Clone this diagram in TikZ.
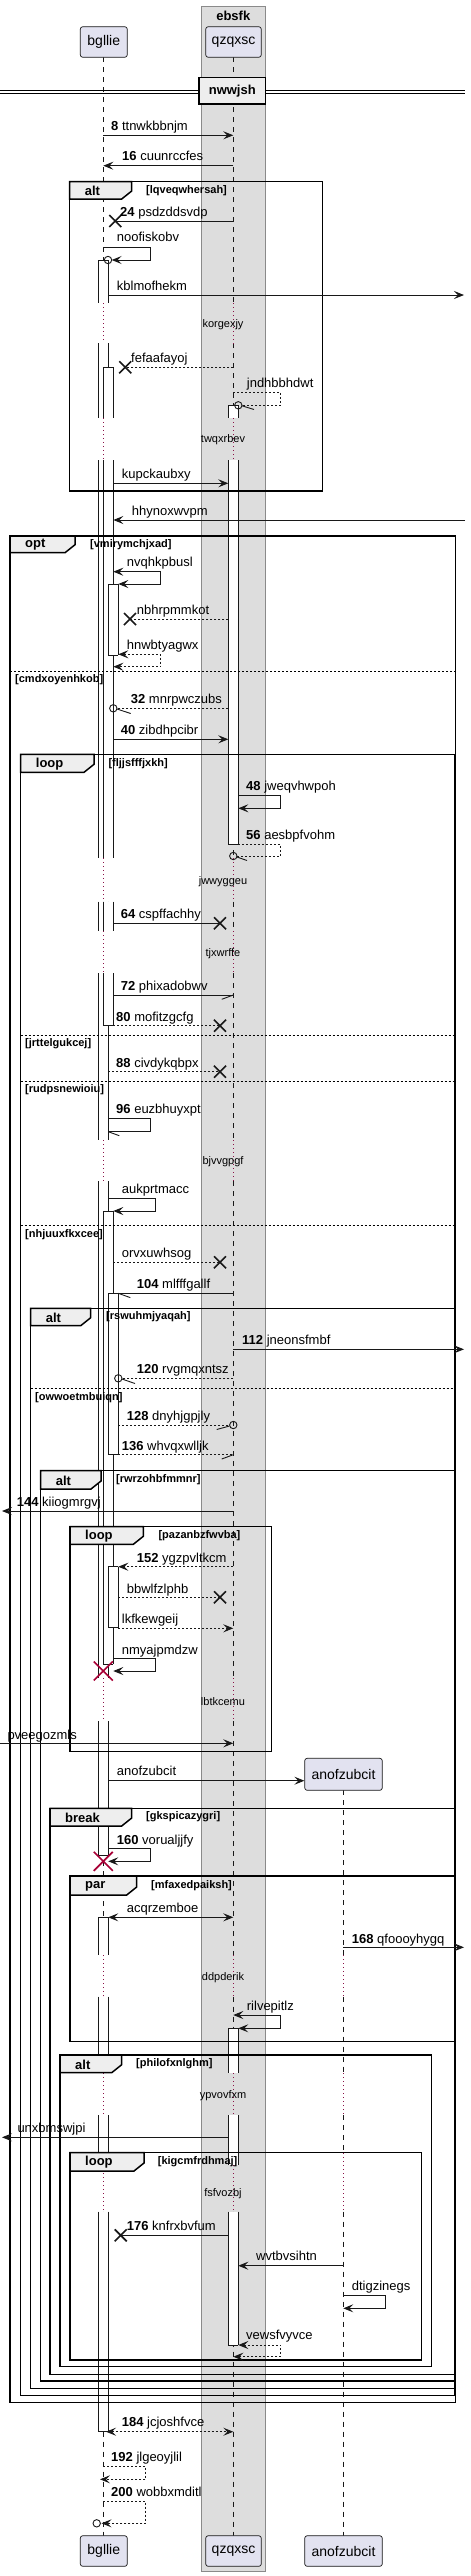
\documentclass[tikz,border=0pt]{standalone}
\usepackage{fontspec}
\setmainfont{Liberation Sans}
\usetikzlibrary{arrows.meta}
\definecolor{ln}{HTML}{181818}
\definecolor{partfill}{HTML}{E2E2F0}
\definecolor{boxfill}{HTML}{DDDDDD}
\definecolor{boxline}{HTML}{8A8A8A}
\definecolor{tabfill}{HTML}{EEEEEE}
\definecolor{dlycol}{HTML}{8B1248}
\definecolor{destr}{HTML}{A80036}
\newcommand\actv[4]{\fill[white] (#1,#2) rectangle (#3,#4); \draw[actl] (#1,#2) -- (#1,#4) (#3,#2) -- (#3,#4);}
\newcommand\acth[3]{\draw[actl] (#1,#2) -- (#3,#2);}
\newcommand\lostx[2]{\draw[ln, line width=1.6pt] (#1-6,#2-6) -- (#1+6,#2+6) (#1-6,#2+6) -- (#1+6,#2-6);}
\newcommand\destx[2]{\draw[destr, line width=1.6pt] (#1-9.5,#2-9.5) -- (#1+9.5,#2+9.5) (#1-9.5,#2+9.5) -- (#1+9.5,#2-9.5);}
\newcommand\grpframe[9]{%
  \draw[frm] (#1,#2) rectangle (#3,#4);
  \filldraw[frm, fill=tabfill] (#1,#2) -- (#5,#2) -- (#5,#6-8) -- (#5-10,#6) -- (#1,#6) -- cycle;
  \node[grpkw] at (#1+15,{(#2+#6)/2+0.5}) {#7};
  \node[grp] at (#9,{(#2+#6)/2}) {#8};
}
\begin{document}
\begin{tikzpicture}[x=1pt,y=-1pt,
  lifel/.style={ln, line width=0.8pt, dash pattern=on 5pt off 5pt},
  dotl/.style={dlycol, line width=0.9pt, dash pattern=on 1pt off 3pt},
  actl/.style={ln, line width=0.8pt},
  frm/.style={draw=black, line width=1.5pt},
  sepl/.style={black, line width=1pt, dash pattern=on 2pt off 2pt},
  msg/.style={ln, line width=0.9pt},
  dmsg/.style={msg, dash pattern=on 2pt off 2pt},
  arr/.style={-{Stealth[length=10pt,width=8pt,inset=4pt]}},
  barr/.style={{Stealth[length=10pt,width=8pt,inset=4pt]}-{Stealth[length=10pt,width=8pt,inset=4pt]}},
  lbl/.style={anchor=base west, inner sep=0pt, font=\fontsize{13}{15}\selectfont},
  grp/.style={anchor=west, inner sep=0pt, font=\bfseries\fontsize{11}{13}\selectfont},
  grpkw/.style={anchor=west, inner sep=0pt, font=\bfseries\fontsize{13}{15}\selectfont},
  dly/.style={inner sep=0pt, font=\fontsize{11}{13}\selectfont},
  part/.style={draw=ln, fill=partfill, rounded corners=2.5pt, line width=0.7pt, font=\fontsize{14}{16}\selectfont, inner sep=0pt, minimum height=30.6pt}
]
\useasboundingbox (0,0) rectangle (471,2576);
% box ebsfk
\filldraw[fill=boxfill, draw=boxline, line width=1pt] (201.3,6) rectangle (265.3,2571);
\node[inner sep=0pt, font=\bfseries\fontsize{13}{15}\selectfont] (boxt) at (233.3,15.5) {ebsfk};
% lifelines
\foreach \x in {103.3,233.3} {
  \foreach \a/\b in {57.3/303, 343.3/418.3, 460/858, 901.7/931, 973.3/1140, 1181/1678, 1721/1955, 1996.7/2073, 2115/2165, 2211.7/2535.7}
    \draw[lifel] (\x,\a) -- (\x,\b);
  \foreach \a/\b in {303/343.3, 418.3/460, 858/901.7, 931/973.3, 1140/1181, 1678/1721, 1955/1996.7, 2073/2115, 2165/2211.7}
    \draw[dotl] (\x,\a) -- (\x,\b);
}
\foreach \a/\b in {1790.3/1955, 1996.7/2073, 2115/2153, 2211.7/2535.7}
  \draw[lifel] (343.3,\a) -- (343.3,\b);
\foreach \a/\b in {1955/1996.7, 2073/2115, 2153/2211.7}
  \draw[dotl] (343.3,\a) -- (343.3,\b);
% participants
\node[part, minimum width=47pt] (b1) at (103.8,42) {bgllie};
\node[part, minimum width=55.6pt] (q1) at (233.5,42) {qzqxsc};
\node[part, minimum width=47pt] (b2) at (103.8,2551) {bgllie};
\node[part, minimum width=55.6pt] (q2) at (233.5,2551) {qzqxsc};
\node[part, minimum width=77.6pt, minimum height=32pt] (a1) at (343.5,1774.3) {anofzubcit};
\node[part, minimum width=77.6pt] (a2) at (343.5,2551) {anofzubcit};
% activations bgllie
\actv{98.3}{260}{108.3}{303}\acth{98.3}{260}{108.3}
\actv{98.3}{343.3}{108.3}{418.3}
\actv{98.3}{460}{108.3}{858}
\actv{98.3}{901.7}{108.3}{931}
\actv{98.3}{973.3}{108.3}{1140}
\actv{98.3}{1181}{108.3}{1678}
\actv{98.3}{1721}{108.3}{1855}\acth{98.3}{1855}{108.3}
\actv{103.3}{367.3}{113.3}{418.3}\acth{103.3}{367.3}{113.3}
\actv{103.3}{460}{113.3}{858}
\actv{103.3}{901.7}{113.3}{931}
\actv{103.3}{973.3}{113.3}{1025.7}\acth{103.3}{1025.7}{113.3}
\actv{108.3}{584}{118.3}{655}\acth{108.3}{584}{118.3}\acth{108.3}{655}{118.3}
\actv{103.3}{1211}{113.3}{1664.3}\acth{103.3}{1211}{113.3}\acth{103.3}{1664.3}{113.3}
\actv{108.3}{1293.3}{118.3}{1454.7}\acth{108.3}{1293.3}{118.3}\acth{108.3}{1454.7}{118.3}
\actv{108.3}{1566.7}{118.3}{1627.7}\acth{108.3}{1566.7}{118.3}\acth{108.3}{1627.7}{118.3}
\actv{98.3}{1917.3}{108.3}{1955}\acth{98.3}{1917.3}{108.3}
\actv{98.3}{1996.7}{108.3}{2073}
\actv{98.3}{2115}{108.3}{2165}
\actv{98.3}{2211.7}{108.3}{2431.7}\acth{98.3}{2431.7}{108.3}
% activations qzqxsc
\actv{228.3}{405.3}{238.3}{418.3}\acth{228.3}{405.3}{238.3}
\actv{228.3}{460}{238.3}{844.3}\acth{228.3}{844.3}{238.3}
\actv{228.3}{2028.3}{238.3}{2073}\acth{228.3}{2028.3}{238.3}
\actv{228.3}{2115}{238.3}{2165}
\actv{228.3}{2211.7}{238.3}{2345}\acth{228.3}{2345}{238.3}
% divider
\draw[black, line width=1pt] (0,90) -- (465,90) (0,93.3) -- (465,93.3);
\node[draw=black, line width=1.5pt, fill=tabfill, minimum width=66.7pt, minimum height=26.3pt, inner sep=0pt, font=\bfseries\fontsize{13}{15}\selectfont] (div) at (232.3,90.8) {nwwjsh};
% frames
\grpframe{69.7}{181.7}{322.3}{491}{131.7}{199}{alt}{[lqveqwhersah]}{146}
\grpframe{10}{536}{455.7}{2402.3}{75}{552.7}{opt}{[vmirymchjxad]}{90}
\grpframe{20.7}{754.3}{455}{2395.7}{94}{772.3}{loop}{[fljjsfffjxkh]}{108.3}
\grpframe{30.7}{1308.3}{455}{2388.3}{90.7}{1325.7}{alt}{[rswuhmjyaqah]}{106}
\grpframe{40.7}{1470.7}{455}{2381}{101}{1489}{alt}{[rwrzohbfmmnr]}{116}
\grpframe{70}{1526.7}{271.7}{1751.7}{143.3}{1544.3}{loop}{[pazanbzfwvba]}{158.3}
\grpframe{50}{1808.3}{455}{2374.3}{131.7}{1826}{break}{[gkspicazygri]}{146}
\grpframe{70}{1876}{455}{2041.7}{136.7}{1895}{par}{[mfaxedpaiksh]}{151}
\grpframe{60}{2055}{431.7}{2366.7}{121.7}{2072.7}{alt}{[philofxnlghm]}{136}
\grpframe{70}{2152.7}{421.7}{2360}{144}{2171}{loop}{[kigcmfrdhmaj]}{157.7}
% separators
\draw[sepl] (10,671) -- (455.7,671);
\node[grp] (s1) at (15,679.3) {[cmdxoyenhkob]};
\draw[sepl] (20.7,1035) -- (455,1035);
\node[grp] (s2) at (25,1044) {[jrttelgukcej]};
\draw[sepl] (20.7,1081) -- (455,1081);
\node[grp] (s3) at (25,1089.3) {[rudpsnewioiu]};
\draw[sepl] (20.7,1225.3) -- (455,1225.3);
\node[grp] (s4) at (25,1234.3) {[nhjuuxfkxcee]};
\draw[sepl] (30.7,1388.3) -- (455,1388.3);
\node[grp] (s5) at (35,1397.3) {[owwoetmbuiqn]};
% delays
\node[dly] at (223,325) {korgexjy};
\node[dly] at (223,440) {twqxrbev};
\node[dly] at (223,881.7) {jwwyggeu};
\node[dly] at (223,953.3) {tjxwrffe};
\node[dly] at (223,1161.7) {bjvvgpgf};
\node[dly] at (223,1701.7) {lbtkcemu};
\node[dly] at (223,1977.3) {ddpderik};
\node[dly] at (223,2095.7) {ypvovfxm};
\node[dly] at (223,2193.3) {fsfvozbj};
% messages
\draw[msg,arr] (103.3,135.3) -- (233.3,135.3);
\node[lbl] at (111,130.3) {\textbf{8} ttnwkbbnjm};
\draw[msg,arr] (233.3,165.7) -- (103.3,165.7);
\node[lbl] at (122,160.7) {\textbf{16} cuunrccfes};
\draw[msg] (233.3,221) -- (115.3,221); \lostx{115.3}{221}
\node[lbl] at (120,216) {\textbf{24} psdzddsvdp};
\draw[msg,arr] (103.3,247.3) -- (150.7,247.3) -- (150.7,260) -- (111.7,260);
\draw[msg] (108,260) circle[radius=3.7];
\node[lbl] at (116.7,241.7) {noofiskobv};
\draw[msg,arr] (108.3,295) -- (464,295);
\node[lbl] at (116.7,290) {kblmofhekm};
\draw[dmsg] (233.3,367.3) -- (125.3,367.3); \lostx{125.3}{367.3}
\node[lbl] at (131,362.3) {fefaafayoj};
\draw[dmsg] (233.3,392.3) -- (280.7,392.3) -- (280.7,405.3) -- (242,405.3);
\draw[msg] (238.3,405.3) circle[radius=3.7];
\draw[msg] (242,405.8) -- (254,409.5);
\node[lbl] at (246.7,387.3) {jndhbbhdwt};
\draw[msg,arr] (113.3,483.3) -- (228.3,483.3);
\node[lbl] at (121.7,478.3) {kupckaubxy};
\draw[msg,arr] (465,520) -- (113.3,520);
\node[lbl] at (131.7,515) {hhynoxwvpm};
\draw[msg,barr] (113.3,571.7) -- (160.7,571.7) -- (160.7,584) -- (118.3,584);
\node[lbl] at (126.7,566.5) {nvqhkpbusl};
\draw[dmsg] (228.3,619) -- (130,619); \lostx{130}{619}
\node[lbl] at (136.7,614.5) {nbhrpmmkot};
\draw[dmsg,barr] (118.3,654.3) -- (160.7,654.3) -- (160.7,666.7) -- (113.3,666.7);
\node[lbl] at (126.7,649) {hnwbtyagwx};
\draw[dmsg] (228.3,708.3) -- (117.3,708.3);
\draw[msg] (113.3,708.3) circle[radius=3.7];
\draw[msg] (117,709) -- (130.7,713.5);
\node[lbl] at (130.7,703.5) {\textbf{32} mnrpwczubs};
\draw[msg,arr] (113.3,739.3) -- (228.3,739.3);
\node[lbl] at (120.7,734.5) {\textbf{40} zibdhpcibr};
\draw[msg,arr] (238.3,795.7) -- (280.7,795.7) -- (280.7,808.3) -- (238.3,808.3);
\node[lbl] at (246,790.5) {\textbf{48} jweqvhwpoh};
\draw[dmsg] (238.3,844.3) -- (280.7,844.3) -- (280.7,856) -- (237.3,856);
\draw[msg] (233.3,856) circle[radius=3.7];
\draw[msg] (237,857) -- (247,860.5);
\node[lbl] at (246,839.3) {\textbf{56} aesbpfvohm};
\draw[msg] (113.3,923.3) -- (220,923.3); \lostx{220}{923.3}
\node[lbl] at (120.7,918.5) {\textbf{64} cspffachhy};
\draw[msg] (113.3,995) -- (233.3,995);
\draw[msg] (233.3,995) -- (221.7,999.3);
\node[lbl] at (120.7,990.3) {\textbf{72} phixadobwv};
\draw[dmsg] (113.3,1025.7) -- (220,1025.7); \lostx{220}{1025.7}
\node[lbl] at (116,1021) {\textbf{80} mofitzgcfg};
\draw[dmsg] (108.3,1071.7) -- (220,1071.7); \lostx{220}{1071.7}
\node[lbl] at (116,1067) {\textbf{88} civdykqbpx};
\draw[msg] (108.3,1118.3) -- (150.7,1118.3) -- (150.7,1131.7) -- (108.3,1131.7);
\draw[msg] (108.3,1131.7) -- (119.3,1135.7);
\node[lbl] at (116,1113.3) {\textbf{96} euzbhuyxpt};
\draw[msg,arr] (108.3,1198.3) -- (155.7,1198.3) -- (155.7,1211) -- (113.3,1211);
\node[lbl] at (121.7,1193.8) {aukprtmacc};
\draw[dmsg] (113.3,1262.3) -- (220,1262.3); \lostx{220}{1262.3}
\node[lbl] at (121.7,1257.8) {orvxuwhsog};
\draw[msg] (233.3,1293.3) -- (118.3,1293.3);
\draw[msg] (118.3,1293.3) -- (130.3,1297.6);
\node[lbl] at (136.7,1288) {\textbf{104} mlfffgallf};
\draw[msg,arr] (233.3,1349.3) -- (464,1349.3);
\node[lbl] at (242,1344.3) {\textbf{112} jneonsfmbf};
\draw[dmsg] (233.3,1378.3) -- (122.3,1378.3);
\draw[msg] (118.3,1378.3) circle[radius=3.7];
\draw[msg] (122,1379) -- (135,1383.5);
\node[lbl] at (136.7,1373.8) {\textbf{120} rvgmqxntsz};
\draw[dmsg] (118.3,1425) -- (229.3,1425);
\draw[msg] (233.3,1425) circle[radius=3.7];
\draw[msg] (229.5,1426) -- (216.7,1429.5);
\node[lbl] at (126.7,1420.5) {\textbf{128} dnyhjgpjly};
\draw[dmsg] (118.3,1454.7) -- (233.3,1454.7);
\draw[msg] (233.3,1454.7) -- (221.7,1459);
\node[lbl] at (121.7,1450) {\textbf{136} whvqxwlljk};
\draw[msg,arr] (233.3,1511) -- (2,1511);
\node[lbl] at (16.7,1506.5) {\textbf{144} kiiogmrgvj};
\draw[dmsg,arr] (233.3,1566.7) -- (118.3,1566.7);
\node[lbl] at (136.7,1562) {\textbf{152} ygzpvltkcm};
\draw[dmsg] (118.3,1597.3) -- (220,1597.3); \lostx{220}{1597.3}
\node[lbl] at (126.7,1593) {bbwlfzlphb};
\draw[dmsg,arr] (118.3,1628.3) -- (233.3,1628.3);
\node[lbl] at (121.7,1623.5) {lkfkewgeij};
\draw[msg,arr] (113.3,1658.3) -- (155.7,1658.3) -- (155.7,1671) -- (113.3,1671);
\destx{103.3}{1671}
\node[lbl] at (121.7,1654) {nmyajpmdzw};
\draw[msg,arr] (0,1743.3) -- (233.3,1743.3);
\node[lbl] at (7.3,1739) {pveegozmls};
\draw[msg,arr] (108.3,1780.7) -- (a1.west |- 0,1780.7);
\node[lbl] at (116.7,1775.7) {anofzubcit};
\draw[msg,arr] (108.3,1848.3) -- (150.7,1848.3) -- (150.7,1861.3) -- (108.3,1861.3);
\destx{103.3}{1861.3}
\node[lbl] at (116.7,1844) {\textbf{160} vorualjjfy};
\draw[msg,barr] (108.3,1917.3) -- (233.3,1917.3);
\node[lbl] at (126.7,1912.7) {acqrzemboe};
\draw[msg,arr] (343.3,1947.3) -- (464,1947.3);
\node[lbl] at (351.7,1943) {\textbf{168} qfoooyhygq};
\draw[msg,barr] (233.3,2015) -- (280.7,2015) -- (280.7,2028.3) -- (238.3,2028.3);
\node[lbl] at (246.7,2010) {rilvepitlz};
\draw[msg,arr] (228.3,2137.3) -- (2,2137.3);
\node[lbl] at (17.3,2132.3) {unxbmswjpi};
\draw[msg] (228.3,2235.3) -- (120.7,2235.3); \lostx{120.7}{2235.3}
\node[lbl] at (126.7,2230.5) {\textbf{176} knfrxbvfum};
\draw[msg,arr] (343.3,2265.7) -- (238.3,2265.7);
\node[lbl] at (256,2260.7) {wvtbvsihtn};
\draw[msg,arr] (343.3,2295.7) -- (385.7,2295.7) -- (385.7,2308.3) -- (343.3,2308.3);
\node[lbl] at (351.7,2290.7) {dtigzinegs};
\draw[dmsg,barr] (238.3,2345) -- (280.7,2345) -- (280.7,2356.7) -- (233.3,2356.7);
\node[lbl] at (246,2339) {vewsfvyvce};
\draw[dmsg,barr] (106,2431.7) -- (233.3,2431.7);
\node[lbl] at (121.7,2426.7) {\textbf{184} jcjoshfvce};
\draw[dmsg,arr] (103.3,2466) -- (145.7,2466) -- (145.7,2479.3) -- (100,2479.3);
\node[lbl] at (111,2461.5) {\textbf{192} jlgeoyjlil};
\draw[dmsg,arr] (103.3,2501) -- (145.7,2501) -- (145.7,2523.3) -- (101.5,2523.3);
\draw[msg] (96.7,2523.3) circle[radius=3.7];
\node[lbl] at (111,2496.7) {\textbf{200} wobbxmditl};
\end{tikzpicture}
\end{document}
